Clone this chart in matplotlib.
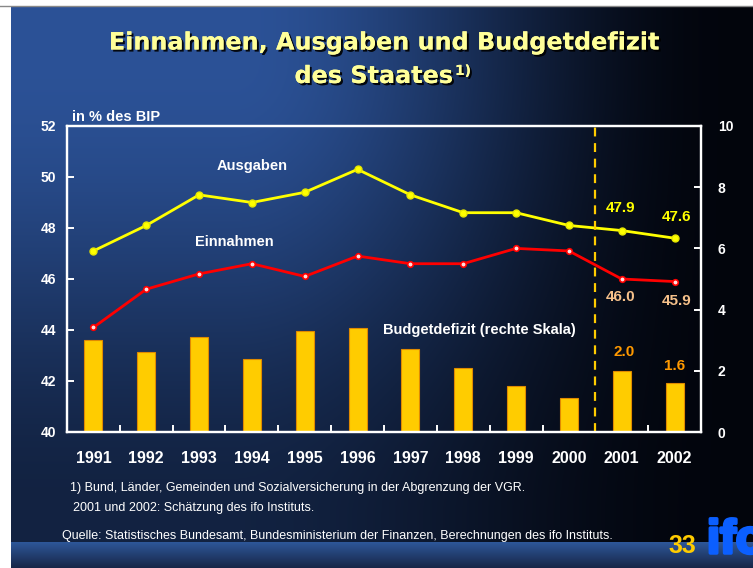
import numpy as np
import matplotlib
matplotlib.use("Agg")
import matplotlib.pyplot as plt
import matplotlib.patheffects as pe

plt.rcParams['font.family'] = ['Liberation Sans', 'DejaVu Sans']

# data (in % des BIP)
years = ['1991', '1992', '1993', '1994', '1995', '1996',
         '1997', '1998', '1999', '2000', '2001', '2002']
ausgaben = [47.1, 48.1, 49.3, 49.0, 49.4, 50.3, 49.3, 48.6, 48.6, 48.1, 47.9, 47.6]
einnahmen = [44.1, 45.6, 46.2, 46.6, 46.1, 46.9, 46.6, 46.6, 47.2, 47.1, 46.0, 45.9]
defizit = [3.0, 2.6, 3.1, 2.4, 3.3, 3.4, 2.7, 2.1, 1.5, 1.1, 2.0, 1.6]

W, H = 753, 568
fig = plt.figure(figsize=(W / 100, H / 100), dpi=100)
fig.patch.set_facecolor('white')

# background slide with gradient
bg = fig.add_axes([0, 0, 1, 1], zorder=-5)
bg.set_xlim(0, W)
bg.set_ylim(H, 0)
bg.axis('off')
xs = np.linspace(0, 1, 400)
ys = np.linspace(0, 1, 300)
X, Y = np.meshgrid(xs, ys)

def smooth(a, b, v):
    t = np.clip((v - a) / (b - a), 0, 1)
    return t * t * (3 - 2 * t)

f = (1 - smooth(0.3, 0.97, X)) * (1 - 0.62 * smooth(0.1, 0.95, Y))
blue = np.array([0.17, 0.32, 0.59])
dark = np.array([0.01, 0.02, 0.05])
img = dark + (blue - dark) * f[..., None]
bg.imshow(img, extent=[11, W, 542, 6], aspect='auto', zorder=0)
# bottom band
band = np.linspace(0, 1, 50)[:, None, None]
top_c = np.array([0.18, 0.34, 0.60])
bot_c = np.array([0.09, 0.15, 0.28])
bimg = top_c + (bot_c - top_c) * band
bimg = np.repeat(bimg, 10, axis=1)
bg.imshow(bimg, extent=[11, W, H, 542], aspect='auto', zorder=0)
bg.plot([0, W], [5.5, 5.5], color='#888888', lw=1)

# title
shadow = [pe.withSimplePatchShadow(offset=(1.5, -1.5), shadow_rgbFace='black', alpha=0.9), pe.Normal()]
tcol = '#ffff99'
bg.text(384, 49.5, 'Einnahmen, Ausgaben und Budgetdefizit', ha='center', va='baseline',
        fontsize=17.2, fontweight='bold', color=tcol, family='DejaVu Sans', path_effects=shadow)
bg.text(453, 83, 'des Staates', ha='right', va='baseline',
        fontsize=17.2, fontweight='bold', color=tcol, family='DejaVu Sans', path_effects=shadow)
bg.text(455, 75, '1)', ha='left', va='baseline',
        fontsize=10, fontweight='bold', color=tcol, family='DejaVu Sans', path_effects=shadow)

bg.text(72, 121, 'in % des BIP', ha='left', va='baseline', fontsize=10.5,
        fontweight='bold', color='white')

# footnotes
bg.text(70, 491, '1) Bund, Länder, Gemeinden und Sozialversicherung in der Abgrenzung der VGR.',
        ha='left', va='baseline', fontsize=9, color='white')
bg.text(73, 511, '2001 und 2002: Schätzung des ifo Instituts.',
        ha='left', va='baseline', fontsize=9, color='white')
bg.text(62, 538.5, 'Quelle: Statistisches Bundesamt, Bundesministerium der Finanzen, Berechnungen des ifo Instituts.',
        ha='left', va='baseline', fontsize=9, color='white')
bg.text(668, 553, '33', ha='left', va='baseline', fontsize=18, fontweight='bold', color='#ffcc00')
bg.text(707, 553, 'ifo', ha='left', va='baseline', fontsize=34, fontweight='bold', color='#0b5fff',
        path_effects=[pe.withStroke(linewidth=2.5, foreground='#0b5fff')])

# chart
ax = fig.add_axes([67 / W, 1 - 432 / H, (701 - 67) / W, (432 - 126) / H])
ax2 = ax.twinx()
ax.set_zorder(ax2.get_zorder() + 1)
ax.patch.set_visible(False)
ax2.patch.set_visible(False)

x = np.arange(len(years))
ax2.bar(x, defizit, width=0.34, color='#ffcc00', edgecolor='#e08a00', linewidth=0.8)
ax.plot(x, ausgaben, color='#ffff00', lw=2, marker='o', ms=5, mfc='#ffff00', mec='#e6e600')
ax.plot(x, einnahmen, color='#ff0000', lw=2, marker='o', ms=4, mfc='#ffdddd', mec='#ff0000', mew=1.2)
ax.axvline(9.5, ymin=0, ymax=1.014, color='#ffcc00', lw=1.6, dashes=(4, 3), clip_on=False)

ax.set_xlim(-0.5, 11.5)
ax.set_ylim(40, 52)
ax.set_yticks(np.arange(40, 53, 2))
ax2.set_ylim(0, 10)
ax2.set_yticks(np.arange(0, 11, 2))
ax.set_xticks(x)
ax.set_xticklabels(years)
ax.set_xticks(np.arange(0.5, 11, 1), minor=True)

for a in (ax, ax2):
    for s in a.spines.values():
        s.set_color('white')
        s.set_linewidth(1.6)
ax.tick_params(axis='x', which='major', length=0, pad=14, labelsize=11.5, labelcolor='white')
ax.tick_params(axis='x', which='minor', direction='in', length=5, color='white', width=1.4)
ax.tick_params(axis='y', direction='in', length=5, color='white', width=1.4, pad=8,
               labelsize=10, labelcolor='white')
ax2.tick_params(axis='y', direction='in', length=5, color='white', width=1.4, pad=12,
                labelsize=10, labelcolor='white')
for lab in ax.get_xticklabels() + ax.get_yticklabels() + ax2.get_yticklabels():
    lab.set_fontweight('bold')

# labels
ax.text(3.0, 50.43, 'Ausgaben', ha='center', va='center', fontsize=10.5, fontweight='bold', color='white')
ax.text(2.67, 47.45, 'Einnahmen', ha='center', va='center', fontsize=10.5, fontweight='bold', color='white')
ax.text(7.31, 44.0, 'Budgetdefizit (rechte Skala)', ha='center', va='center', fontsize=10.5,
        fontweight='bold', color='white')
ax.text(9.97, 48.8, f'{ausgaben[10]:.1f}', ha='center', va='center', fontsize=11, fontweight='bold', color='#ffff00')
ax.text(11.04, 48.44, f'{ausgaben[11]:.1f}', ha='center', va='center', fontsize=11, fontweight='bold', color='#ffff00')
ax.text(9.97, 45.31, f'{einnahmen[10]:.1f}', ha='center', va='center', fontsize=11, fontweight='bold', color='#f5c08a')
ax.text(11.04, 45.15, f'{einnahmen[11]:.1f}', ha='center', va='center', fontsize=11, fontweight='bold', color='#f5c08a')
ax.text(10.04, 43.15, f'{defizit[10]:.1f}', ha='center', va='center', fontsize=11, fontweight='bold', color='#ff9900')
ax.text(11.0, 42.59, f'{defizit[11]:.1f}', ha='center', va='center', fontsize=11, fontweight='bold', color='#ff9900')

fig.savefig('out.png', dpi=100, facecolor=fig.get_facecolor())
